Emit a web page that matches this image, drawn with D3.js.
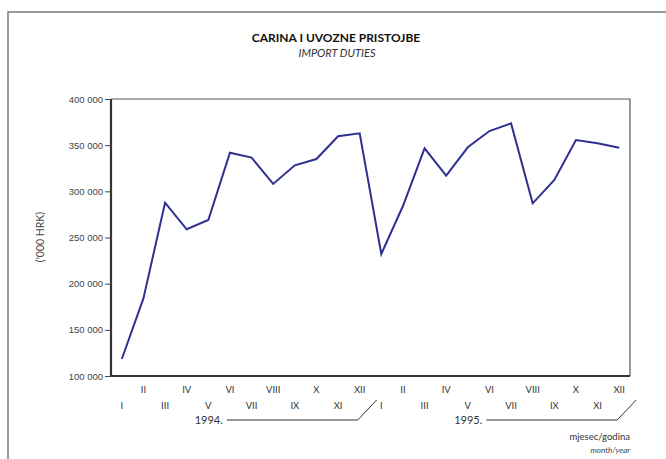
<!DOCTYPE html>
<html>
<head>
<meta charset="utf-8">
<script src="https://cdn.jsdelivr.net/npm/d3@7"></script>
<style>
  body { margin: 0; background: #fff; }
  svg { display: block; font-family: Lato, "Open Sans", sans-serif; }
</style>
</head>
<body>
<div id="chart"></div>
<script>
// months of 1994 and 1995 (roman numerals)
const months = ["I", "II", "III", "IV", "V", "VI", "VII", "VIII", "IX", "X", "XI", "XII"];
const periods = months.map(m => "1994-" + m).concat(months.map(m => "1995-" + m));

// import duties, '000 HRK
const duties = [
    118400, 184000, 287700, 258900, 269000, 341800, 336500, 308000, 328200, 335000, 359600, 362800,
    232100, 284100, 346600, 316900, 347700, 365300, 373600, 287000, 312300, 355600, 352000, 347300
];

const yTicks = [100000, 150000, 200000, 250000, 300000, 350000, 400000];
const years = ["1994.", "1995."];

const W = 666, H = 459;
const margin = { top: 99, right: 36, bottom: 83, left: 111 };
const width = W - margin.left - margin.right;
const height = H - margin.top - margin.bottom;

const svg = d3.select("#chart").append("svg")
    .attr("width", W)
    .attr("height", H);

// page frame
svg.append("path")
    .attr("d", `M8,${H + 2}V12H${W + 2}`)
    .attr("fill", "none")
    .attr("stroke", "#7a7a7a")
    .attr("stroke-width", 1.5);

// titles
svg.append("text")
    .attr("x", 336).attr("y", 42)
    .attr("text-anchor", "middle")
    .style("font-size", "12px")
    .style("font-weight", "bold")
    .attr("fill", "#111")
    .text("CARINA I UVOZNE PRISTOJBE");

svg.append("text")
    .attr("x", 337).attr("y", 57)
    .attr("text-anchor", "middle")
    .style("font-size", "11px")
    .style("font-style", "italic")
    .attr("fill", "#333")
    .text("IMPORT DUTIES");

const g = svg.append("g")
    .attr("transform", `translate(${margin.left},${margin.top})`);

const x = d3.scalePoint()
    .domain(periods)
    .range([0, width])
    .padding(0.5);

const y = d3.scaleLinear()
    .domain([100000, 400000])
    .range([height, 0]);

// thin top & right frame lines
g.append("path")
    .attr("d", `M0,0H${width}V${height}`)
    .attr("fill", "none")
    .attr("stroke", "#555")
    .attr("stroke-width", 1.2);

// y axis
const fmt = d => d3.format(",")(d).replace(/,/g, " ");
const yAxis = g.append("g")
    .call(d3.axisLeft(y).tickValues(yTicks).tickFormat(fmt).tickSize(6).tickPadding(2));
yAxis.select(".domain").attr("stroke", "#333").attr("stroke-width", 2.2)
    .attr("d", `M0,0V${height}`);
yAxis.selectAll(".tick line").attr("stroke", "#444");
yAxis.selectAll(".tick text")
    .style("font-size", "9.5px")
    .attr("fill", "#444");

// bottom axis line
g.append("line")
    .attr("x1", 0).attr("x2", width)
    .attr("y1", height).attr("y2", height)
    .attr("stroke", "#333")
    .attr("stroke-width", 2.2);

// y label
svg.append("text")
    .attr("transform", "translate(44,237) rotate(-90)")
    .attr("text-anchor", "middle")
    .style("font-size", "10.5px")
    .attr("fill", "#444")
    .text("('000 HRK)");

// month labels: even months upper row, odd months lower row
g.selectAll(".mlabel")
    .data(periods)
    .enter().append("text")
    .attr("class", "mlabel")
    .attr("x", d => x(d))
    .attr("y", (d, i) => height + (i % 2 === 0 ? 33 : 17))
    .attr("text-anchor", "middle")
    .style("font-size", "9.5px")
    .attr("fill", "#333")
    .text(d => d.split("-")[1]);

// year brackets
years.forEach((yr, k) => {
    const first = x(periods[k * 12]);
    const last = x(periods[k * 12 + 11]);
    const by = height + 44;
    const tx = first + 101;
    g.append("text")
        .attr("x", tx).attr("y", by + 4)
        .attr("text-anchor", "end")
        .style("font-size", "11px")
        .attr("fill", "#333")
        .text(yr);
    g.append("path")
        .attr("d", `M${tx + 4},${by}H${last - 2}L${last + 17},${by - 20}`)
        .attr("fill", "none")
        .attr("stroke", "#333")
        .attr("stroke-width", 1);
});

// x axis caption
svg.append("text")
    .attr("x", 630).attr("y", 440)
    .attr("text-anchor", "end")
    .style("font-size", "9.5px")
    .attr("fill", "#333")
    .text("mjesec/godina");
svg.append("text")
    .attr("x", 630).attr("y", 453)
    .attr("text-anchor", "end")
    .style("font-size", "8px")
    .style("font-style", "italic")
    .attr("fill", "#444")
    .text("month/year");

// data line
const line = d3.line()
    .x((d, i) => x(periods[i]))
    .y(d => y(d));

g.append("path")
    .datum(duties)
    .attr("d", line)
    .attr("fill", "none")
    .attr("stroke", "#2e3192")
    .attr("stroke-width", 2)
    .attr("stroke-linejoin", "miter");
</script>
</body>
</html>
